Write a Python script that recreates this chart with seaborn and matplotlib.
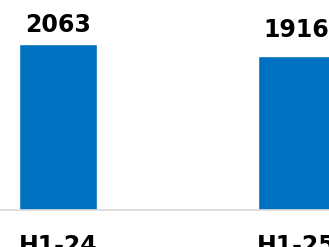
import matplotlib
matplotlib.use("Agg")
import matplotlib.pyplot as plt
import seaborn as sns
import pandas as pd

sns.set_theme(style="white")
plt.rcParams["font.family"] = ["DejaVu Sans"]

# data
periods = ["H1-24", "H1-25"]
values = [2063, 1916]
label_pad = [5, 10]  # points above bar top

df = pd.DataFrame({"Period": periods, "Value": values})

fig = plt.figure(figsize=(3.29, 2.47), dpi=100)
ax = fig.add_axes([0, 37 / 247, 1, 210 / 247])

sns.barplot(data=df, x="Period", y="Value", color="#0070C0", width=0.323,
            saturation=1, ax=ax)

ax.set_xlim(-0.243, 1.136)
ax.set_ylim(0, 2609)

for i, (v, p) in enumerate(zip(values, label_pad)):
    ax.annotate(f"{v}", (i, v), xytext=(0, p), textcoords="offset points",
                ha="center", va="bottom", fontsize=17, fontweight="bold",
                color="black")

for s in ["top", "right", "left"]:
    ax.spines[s].set_visible(False)
ax.spines["bottom"].set_color("#D9D9D9")
ax.spines["bottom"].set_linewidth(1.2)
ax.set_yticks([])
ax.set_xlabel("")
ax.set_ylabel("")
ax.tick_params(axis="x", length=0, pad=17, labelsize=17, labelcolor="black")
for t in ax.get_xticklabels():
    t.set_fontweight("bold")

fig.savefig("out.png", dpi=100)
